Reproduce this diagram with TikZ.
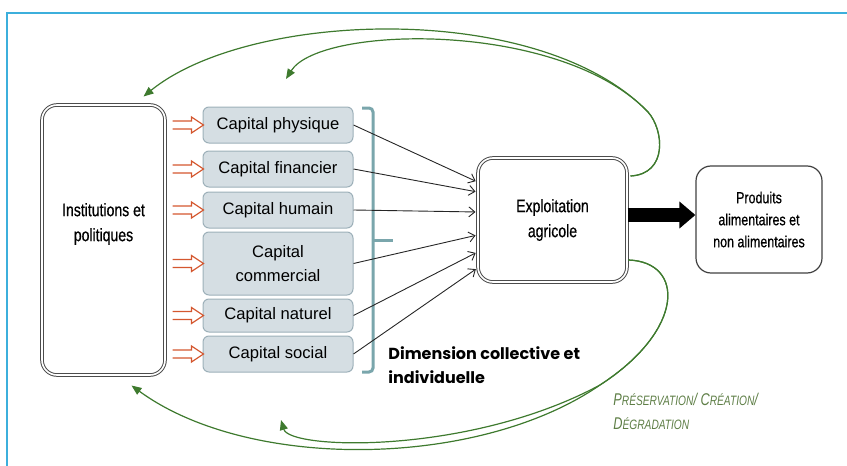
\documentclass[tikz,border=0pt]{standalone}
\usepackage{fontspec}
\setmainfont{Liberation Sans}
\newfontfamily\condfont[FakeStretch=0.78,FakeBold=0.6]{Liberation Sans}
\newfontfamily\narrowfont[FakeStretch=0.75]{Liberation Sans}
\newfontfamily\dimfont{Poppins}
\usetikzlibrary{arrows.meta,calc}
\usepackage{xcolor}
\definecolor{framecyan}{HTML}{3CAFDC}
\definecolor{capfill}{HTML}{D5DEE3}
\definecolor{capborder}{HTML}{9DB0B9}
\definecolor{bracketteal}{HTML}{7AA6AC}
\definecolor{arrowred}{HTML}{D4572F}
\definecolor{loopgreen}{HTML}{3E7A2E}
\definecolor{textgreen}{HTML}{5E7E46}
\newcommand{\petit}[1]{{\fontsize{6.8}{8}\selectfont #1}}

\begin{document}
\begin{tikzpicture}[
    x=0.5pt, y=-0.5pt,
    every node/.style={inner sep=0pt},
    bigbox/.style={draw=black!70, double=white, double distance=0.8pt, line width=0.5pt,
      rounded corners=7.5pt, align=center, font=\condfont\fontsize{9}{12.5}\selectfont},
    capbox/.style={draw=capborder, fill=capfill, line width=0.5pt, rounded corners=3pt,
      minimum width=75pt, align=center, font=\fontsize{8.3}{12}\selectfont},
    hollow/.style={draw=arrowred, line width=0.6pt, fill=white},
    link/.style={draw=black!85, line width=0.45pt, -{Straight Barb[length=3pt,width=5pt]},
      shorten >=1pt},
    fat/.style={draw=black, line width=7pt, -{Triangle[length=8pt,width=13pt]}},
    feedback/.style={draw=loopgreen, line width=0.6pt, -{Triangle[length=5pt,width=4pt]}},
]
\useasboundingbox (0,0) rectangle (847,466);
\draw[framecyan, line width=1pt] (847,13) -- (7,13) -- (7,466);

% boxes
\node[bigbox, minimum width=61.5pt, minimum height=135pt] (inst) at (103.5,240) {};
\node[align=center, font=\condfont\fontsize{9}{12.5}\selectfont] (insttext) at ([yshift=8pt]inst.center) {Institutions et\\politiques};
\node[capbox, minimum height=18pt] (phys) at (278,125) {Capital physique};
\node[capbox, minimum height=18pt] (fin) at (278,169) {Capital financier};
\node[capbox, minimum height=18pt] (hum) at (278,210) {Capital humain};
\node[capbox, minimum height=31.5pt] (comm) at (278,263.5) {Capital\\commercial};
\node[capbox, minimum height=16.5pt] (nat) at (278,315.5) {Capital naturel};
\node[capbox, minimum height=18pt] (soc) at (278,354) {Capital social};
\node[bigbox, minimum width=74.5pt, minimum height=62pt] (expl) at (552.5,220) {Exploitation\\agricole};
\node[draw=black!75, line width=0.6pt, rounded corners=7.5pt, minimum width=63pt, minimum height=53.5pt,
  align=center, font=\condfont\fontsize{8}{11}\selectfont] (prod) at (759,219.5) {Produits\\alimentaires et\\non alimentaires};

% bracket
\draw[bracketteal, line width=1.5pt, rounded corners=2pt] (362,108) -- (373,108) -- (373,372) -- (362,372);
\draw[bracketteal, line width=1.5pt] (373,240) -- (393,240);

\foreach \c in {phys,fin,hum,comm,nat,soc}
  \draw[hollow] ($(inst.east |- \c.west)+(7,-4)$) -- ++(19,0) -- ++(0,-4) -- ++(12,8)
    -- ++(-12,8) -- ++(0,-4) -- ++(-19,0);
\foreach \c/\s in {phys/19pt,fin/14pt,hum/4pt,comm/-7.5pt,nat/-16pt,soc/-24pt}
  \draw[link] (\c.east) -- ([yshift=\s]expl.west);

\draw[fat] ([yshift=2.5pt]expl.east) -- ([yshift=2.5pt]expl.east -| prod.west);

% feedback loops
\coordinate (topstart) at ([xshift=1.5pt,yshift=22pt]expl.east);
\coordinate (topsplit) at (648,112);
\coordinate (topend) at (286,79);
\coordinate (botstart) at ([xshift=0.5pt,yshift=-20pt]expl.east);
\coordinate (botsplit) at (600,385);
\coordinate (botend) at (281,420);
\draw[feedback] (topstart) .. controls (668,174) and (664,130) .. (topsplit)
  .. controls (540,0) and (250,10) .. ([xshift=20pt,yshift=4pt]inst.north);
\draw[feedback] (topstart) .. controls (668,174) and (664,130) .. (topsplit)
  .. controls (560,20) and (320,25) .. (topend);
\draw[feedback] (botstart) .. controls (685,262) and (685,330) .. (botsplit)
  .. controls (480,468) and (250,472) .. ([xshift=14pt,yshift=-5pt]inst.south);
\draw[feedback] (botstart) .. controls (685,262) and (685,330) .. (botsplit)
  .. controls (470,455) and (290,450) .. (botend);

\node[font=\dimfont\bfseries\fontsize{8}{12}\selectfont, align=left, anchor=base west] (dim)
  at (388,383) {Dimension collective et\\individuelle};
\node[text=textgreen, font=\narrowfont\itshape\fontsize{8.5}{12}\selectfont, align=left, anchor=base west] (pres)
  at (613,429) {P\petit{RÉSERVATION}/ C\petit{RÉATION}/\\D\petit{ÉGRADATION}};
\end{tikzpicture}
\end{document}
